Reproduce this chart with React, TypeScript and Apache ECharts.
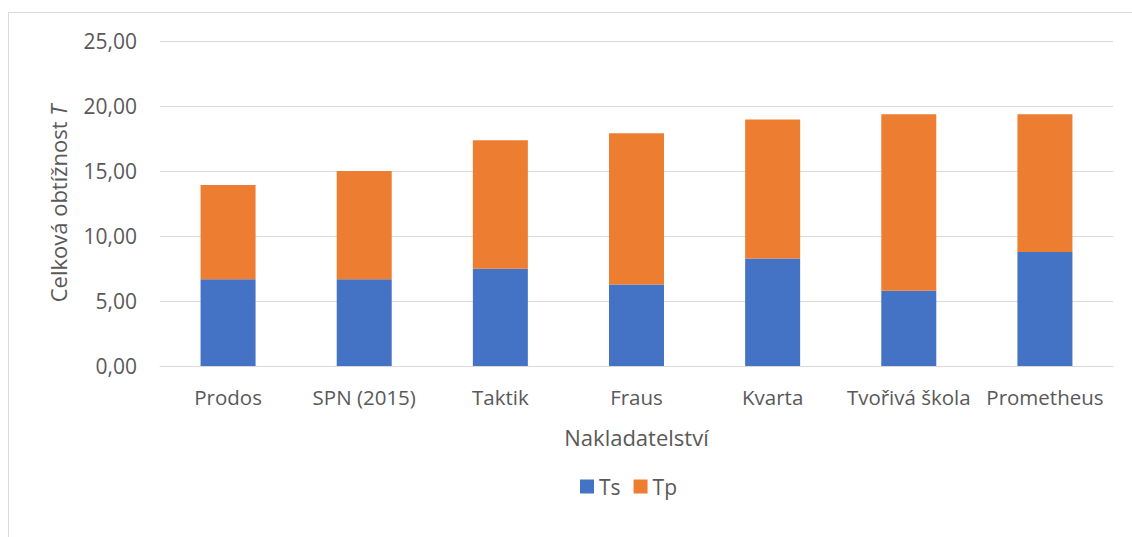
import React, { useEffect, useRef } from "react";
import * as echarts from "echarts";

const categories = ["Prodos", "SPN (2015)", "Taktik", "Fraus", "Kvarta", "Tvořivá škola", "Prometheus"];
const tsValues = [6.67, 6.67, 7.49, 6.26, 8.26, 5.79, 8.77];
const tpValues = [7.25, 8.33, 9.87, 11.64, 10.71, 13.57, 10.59];
const seriesNames = ["Ts", "Tp"];
const colors = ["#4472C4", "#ED7D31"];

const FONT = "'Open Sans', sans-serif";
const TXT = "#595959";

export default function App() {
  const ref = useRef<HTMLDivElement>(null);
  useEffect(() => {
    if (!ref.current) return;
    const chart = echarts.init(ref.current, undefined, { renderer: "svg" });
    chart.setOption({
      animation: false,
      textStyle: { fontFamily: FONT },
      grid: { left: 160, right: 19, top: 41, bottom: 171, containLabel: false },
      legend: {
        top: 471,
        left: 575,
        itemWidth: 14,
        itemHeight: 14,
        itemGap: 13,
        icon: "rect",
        textStyle: { color: TXT, fontSize: 21, fontFamily: FONT },
        data: seriesNames,
      },
      xAxis: {
        type: "category",
        data: categories,
        axisLine: { lineStyle: { color: "#d9d9d9", width: 1 } },
        axisTick: { show: false },
        axisLabel: { color: TXT, fontSize: 20.5, fontFamily: FONT, margin: 20, interval: 0 },
        name: "Nakladatelství",
        nameLocation: "middle",
        nameGap: 60,
        nameTextStyle: { color: TXT, fontSize: 22, fontFamily: FONT },
      },
      yAxis: {
        type: "value",
        min: 0,
        max: 25,
        interval: 5,
        axisLine: { show: false },
        axisTick: { show: false },
        splitLine: { lineStyle: { color: "#d9d9d9", width: 1 } },
        axisLabel: {
          color: TXT,
          fontSize: 21,
          fontFamily: FONT,
          margin: 23,
          formatter: (v: number) => v.toFixed(2).replace(".", ","),
        },
        name: "{a|Celková obtížnost }{b|T}",
        nameLocation: "middle",
        nameGap: 91,
        nameTextStyle: {
          color: TXT,
          fontSize: 22,
          fontFamily: FONT,
          rich: {
            a: { color: TXT, fontSize: 22, fontFamily: FONT },
            b: { color: TXT, fontSize: 22, fontFamily: FONT, fontStyle: "italic" },
          },
        },
      },
      series: [
        {
          name: seriesNames[0],
          type: "bar",
          stack: "total",
          data: tsValues,
          barWidth: 55,
          itemStyle: { color: colors[0] },
        },
        {
          name: seriesNames[1],
          type: "bar",
          stack: "total",
          data: tpValues,
          barWidth: 55,
          itemStyle: { color: colors[1] },
        },
      ],
    });
    return () => chart.dispose();
  }, []);
  return (
    <div style={{ position: "absolute", left: 0, top: 0, width: 1132, height: 537, background: "#fff", overflow: "hidden" }}>
      <div
        style={{
          position: "absolute",
          left: 8,
          top: 12,
          width: 1140,
          height: 540,
          borderTop: "1px solid #d9d9d9",
          borderLeft: "1px solid #d9d9d9",
          boxSizing: "border-box",
        }}
      />
      <div ref={ref} style={{ position: "absolute", left: 0, top: 0, width: 1132, height: 537 }} />
    </div>
  );
}
